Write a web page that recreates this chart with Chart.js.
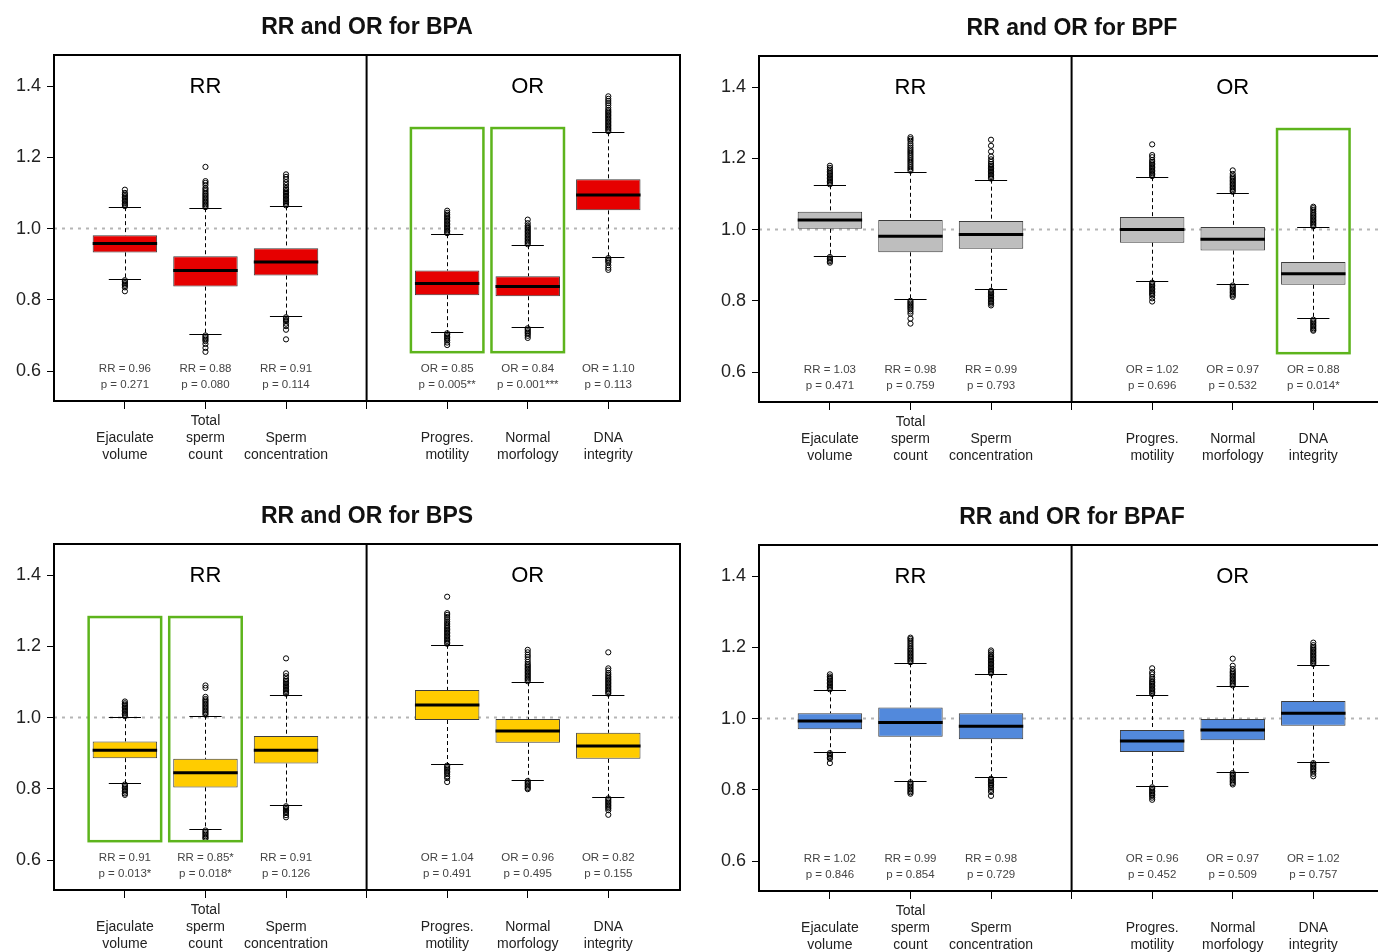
<!DOCTYPE html>
<html>
<head>
<meta charset="utf-8">
<script src="https://cdn.jsdelivr.net/npm/chart.js@4"></script>
<style>
  html, body { margin: 0; padding: 0; background: #fff; overflow: hidden; }
  body { width: 1378px; height: 952px; position: relative; }
  .panel { position: absolute; width: 705px; height: 489px; }
</style>
</head>
<body>
<div class="panel" style="left:0;top:0"><canvas id="bpa" width="705" height="489"></canvas></div>
<div class="panel" style="left:705px;top:1px"><canvas id="bpf" width="705" height="489"></canvas></div>
<div class="panel" style="left:0;top:489px"><canvas id="bps" width="705" height="489"></canvas></div>
<div class="panel" style="left:705px;top:490px"><canvas id="bpaf" width="705" height="489"></canvas></div>
<script>
// box positions (4 is the RR / OR divider)
const positions = [1, 2, 3, 5, 6, 7]
const tickLabels = {
  1: ['', 'Ejaculate', 'volume'],
  2: ['Total', 'sperm', 'count'],
  3: ['', 'Sperm', 'concentration'],
  4: '',
  5: ['', 'Progres.', 'motility'],
  6: ['', 'Normal', 'morfology'],
  7: ['', 'DNA', 'integrity']
}
const yTicks = [0.6, 0.8, 1.0, 1.2, 1.4]

// BPA
const bpaQ1 = [0.933, 0.837, 0.868, 0.813, 0.810, 1.051]
const bpaMedian = [0.958, 0.882, 0.906, 0.846, 0.837, 1.094]
const bpaQ3 = [0.981, 0.922, 0.945, 0.882, 0.866, 1.138]
const bpaLow = [0.858, 0.704, 0.755, 0.710, 0.724, 0.921]
const bpaHigh = [1.060, 1.057, 1.062, 0.984, 0.953, 1.270]
const bpaOutUp = [
  [1.063, 1.067, 1.071, 1.075, 1.079, 1.083, 1.087, 1.091, 1.095, 1.100, 1.109],
  [1.060, 1.064, 1.068, 1.072, 1.076, 1.080, 1.084, 1.088, 1.092, 1.096, 1.100, 1.105, 1.110, 1.114, 1.122, 1.128, 1.133, 1.173],
  [1.065, 1.069, 1.073, 1.077, 1.081, 1.085, 1.089, 1.093, 1.097, 1.101, 1.105, 1.110, 1.114, 1.122, 1.130, 1.138, 1.145, 1.152],
  [0.987, 0.991, 0.995, 0.999, 1.003, 1.007, 1.011, 1.015, 1.019, 1.023, 1.027, 1.031, 1.035, 1.039, 1.044, 1.050],
  [0.956, 0.960, 0.964, 0.968, 0.972, 0.976, 0.980, 0.984, 0.988, 0.992, 0.996, 1.000, 1.004, 1.008, 1.015, 1.025],
  [1.273, 1.277, 1.281, 1.285, 1.289, 1.293, 1.297, 1.301, 1.305, 1.309, 1.313, 1.317, 1.321, 1.325, 1.329, 1.333, 1.339, 1.346, 1.352, 1.358, 1.364, 1.371]
]
const bpaOutLow = [
  [0.855, 0.851, 0.847, 0.843, 0.839, 0.835, 0.824],
  [0.700, 0.696, 0.692, 0.688, 0.684, 0.676, 0.665, 0.654],
  [0.751, 0.747, 0.743, 0.740, 0.733, 0.726, 0.716, 0.689],
  [0.706, 0.702, 0.698, 0.694, 0.690, 0.686, 0.680, 0.673],
  [0.720, 0.716, 0.712, 0.708, 0.704, 0.699, 0.693],
  [0.917, 0.913, 0.909, 0.905, 0.897, 0.890, 0.884]
]
const bpaEffect = ['RR = 0.96', 'RR = 0.88', 'RR = 0.91', 'OR = 0.85', 'OR = 0.84', 'OR = 1.10']
const bpaP = ['p = 0.271', 'p = 0.080', 'p = 0.114', 'p = 0.005**', 'p = 0.001***', 'p = 0.113']
const bpaMarked = [3, 4]

// BPF
const bpfQ1 = [1.002, 0.936, 0.946, 0.963, 0.941, 0.845]
const bpfMedian = [1.027, 0.981, 0.986, 1.000, 0.973, 0.876]
const bpfQ3 = [1.050, 1.027, 1.024, 1.035, 1.007, 0.909]
const bpfLow = [0.927, 0.804, 0.832, 0.855, 0.847, 0.751]
const bpfHigh = [1.124, 1.162, 1.140, 1.147, 1.103, 1.006]
const bpfOutUp = [
  [1.127, 1.131, 1.135, 1.139, 1.143, 1.147, 1.151, 1.155, 1.159, 1.163, 1.168, 1.173, 1.179],
  [1.165, 1.170, 1.175, 1.180, 1.185, 1.190, 1.195, 1.200, 1.205, 1.210, 1.215, 1.220, 1.225, 1.230, 1.236, 1.242, 1.249, 1.254, 1.259],
  [1.143, 1.147, 1.151, 1.155, 1.159, 1.163, 1.167, 1.171, 1.175, 1.179, 1.184, 1.190, 1.197, 1.205, 1.219, 1.235, 1.252],
  [1.150, 1.154, 1.158, 1.162, 1.166, 1.170, 1.174, 1.178, 1.182, 1.186, 1.190, 1.195, 1.203, 1.209, 1.239],
  [1.106, 1.110, 1.114, 1.118, 1.122, 1.126, 1.130, 1.134, 1.138, 1.142, 1.146, 1.150, 1.156, 1.166],
  [1.009, 1.013, 1.017, 1.021, 1.025, 1.029, 1.033, 1.037, 1.041, 1.045, 1.050, 1.055, 1.060, 1.064]
]
const bpfOutLow = [
  [0.923, 0.919, 0.915, 0.911, 0.907],
  [0.800, 0.796, 0.792, 0.788, 0.784, 0.780, 0.776, 0.770, 0.764, 0.750, 0.736],
  [0.828, 0.824, 0.820, 0.816, 0.812, 0.808, 0.804, 0.800, 0.796, 0.792, 0.787],
  [0.851, 0.847, 0.843, 0.839, 0.835, 0.831, 0.827, 0.823, 0.819, 0.815, 0.807, 0.798],
  [0.843, 0.839, 0.835, 0.831, 0.827, 0.823, 0.819, 0.815, 0.811],
  [0.747, 0.743, 0.739, 0.735, 0.731, 0.727, 0.723, 0.719, 0.716]
]
const bpfEffect = ['RR = 1.03', 'RR = 0.98', 'RR = 0.99', 'OR = 1.02', 'OR = 0.97', 'OR = 0.88']
const bpfP = ['p = 0.471', 'p = 0.759', 'p = 0.793', 'p = 0.696', 'p = 0.532', 'p = 0.014*']
const bpfMarked = [5]

// BPS
const bpsQ1 = [0.886, 0.804, 0.871, 0.993, 0.929, 0.884]
const bpsMedian = [0.908, 0.845, 0.908, 1.035, 0.962, 0.920]
const bpsQ3 = [0.933, 0.884, 0.948, 1.077, 0.996, 0.957]
const bpsLow = [0.816, 0.687, 0.755, 0.869, 0.826, 0.777]
const bpsHigh = [1.001, 1.005, 1.064, 1.204, 1.099, 1.064]
const bpsOutUp = [
  [1.004, 1.008, 1.012, 1.016, 1.020, 1.024, 1.028, 1.032, 1.036, 1.040, 1.045],
  [1.008, 1.012, 1.016, 1.020, 1.024, 1.028, 1.032, 1.036, 1.040, 1.044, 1.048, 1.052, 1.058, 1.083, 1.090],
  [1.067, 1.071, 1.075, 1.079, 1.083, 1.087, 1.091, 1.095, 1.099, 1.103, 1.108, 1.116, 1.124, 1.166],
  [1.207, 1.211, 1.215, 1.219, 1.223, 1.227, 1.231, 1.235, 1.239, 1.243, 1.247, 1.251, 1.255, 1.260, 1.265, 1.270, 1.276, 1.282, 1.288, 1.293, 1.339],
  [1.102, 1.106, 1.110, 1.114, 1.118, 1.122, 1.126, 1.130, 1.134, 1.138, 1.142, 1.146, 1.150, 1.156, 1.163, 1.170, 1.176, 1.183, 1.190],
  [1.067, 1.071, 1.075, 1.079, 1.083, 1.087, 1.091, 1.095, 1.099, 1.103, 1.107, 1.111, 1.115, 1.120, 1.125, 1.132, 1.138, 1.183]
]
const bpsOutLow = [
  [0.812, 0.808, 0.804, 0.800, 0.796, 0.792, 0.787, 0.783],
  [0.683, 0.679, 0.675, 0.671, 0.667, 0.663, 0.660],
  [0.751, 0.747, 0.743, 0.739, 0.735, 0.732, 0.726, 0.720],
  [0.865, 0.861, 0.857, 0.853, 0.849, 0.845, 0.841, 0.835, 0.830, 0.819],
  [0.822, 0.818, 0.814, 0.810, 0.806, 0.802, 0.799],
  [0.773, 0.769, 0.765, 0.761, 0.757, 0.753, 0.749, 0.745, 0.740, 0.727]
]
const bpsEffect = ['RR = 0.91', 'RR = 0.85*', 'RR = 0.91', 'OR = 1.04', 'OR = 0.96', 'OR = 0.82']
const bpsP = ['p = 0.013*', 'p = 0.018*', 'p = 0.126', 'p = 0.491', 'p = 0.495', 'p = 0.155']
const bpsMarked = [0, 1]

// BPAF
const bpafQ1 = [0.970, 0.949, 0.942, 0.906, 0.939, 0.980]
const bpafMedian = [0.993, 0.989, 0.978, 0.937, 0.968, 1.015]
const bpafQ3 = [1.015, 1.031, 1.015, 0.968, 0.999, 1.049]
const bpafLow = [0.907, 0.825, 0.835, 0.811, 0.851, 0.879]
const bpafHigh = [1.079, 1.155, 1.124, 1.066, 1.090, 1.150]
const bpafOutUp = [
  [1.082, 1.086, 1.090, 1.094, 1.098, 1.102, 1.106, 1.110, 1.114, 1.118, 1.124],
  [1.158, 1.162, 1.166, 1.170, 1.174, 1.178, 1.182, 1.186, 1.190, 1.194, 1.198, 1.203, 1.208, 1.213, 1.218, 1.223, 1.227],
  [1.127, 1.131, 1.135, 1.139, 1.143, 1.147, 1.151, 1.155, 1.159, 1.163, 1.167, 1.171, 1.175, 1.180, 1.186, 1.191],
  [1.069, 1.073, 1.077, 1.081, 1.085, 1.089, 1.093, 1.097, 1.101, 1.105, 1.110, 1.116, 1.124, 1.130, 1.141],
  [1.093, 1.097, 1.101, 1.105, 1.109, 1.113, 1.117, 1.121, 1.125, 1.129, 1.133, 1.139, 1.148, 1.168],
  [1.153, 1.157, 1.161, 1.165, 1.169, 1.173, 1.177, 1.181, 1.185, 1.189, 1.193, 1.197, 1.201, 1.206, 1.213]
]
const bpafOutLow = [
  [0.903, 0.899, 0.895, 0.891, 0.887, 0.875],
  [0.821, 0.817, 0.813, 0.809, 0.805, 0.801, 0.797, 0.793, 0.789],
  [0.831, 0.827, 0.823, 0.819, 0.815, 0.811, 0.806, 0.800, 0.794, 0.783],
  [0.807, 0.803, 0.799, 0.795, 0.791, 0.787, 0.783, 0.778, 0.772],
  [0.847, 0.843, 0.839, 0.835, 0.831, 0.827, 0.823, 0.819, 0.815],
  [0.875, 0.871, 0.867, 0.863, 0.859, 0.855, 0.851, 0.845, 0.838]
]
const bpafEffect = ['RR = 1.02', 'RR = 0.99', 'RR = 0.98', 'OR = 0.96', 'OR = 0.97', 'OR = 1.02']
const bpafP = ['p = 0.846', 'p = 0.854', 'p = 0.729', 'p = 0.452', 'p = 0.509', 'p = 0.757']
const bpafMarked = []

Chart.defaults.font.family = '"Liberation Sans", Arial, sans-serif'
Chart.defaults.color = '#222'

const hline = (ctx, x1, y1, x2, y2) => {
  ctx.beginPath()
  ctx.moveTo(x1, y1)
  ctx.lineTo(x2, y2)
  ctx.stroke()
}

const boxParts = (d) => ({
  id: 'boxParts',
  beforeDatasetsDraw(chart) {
    const { ctx, chartArea: a, scales: { x, y } } = chart
    ctx.save()
    // dotted reference line at 1
    ctx.strokeStyle = '#b5b5b5'
    ctx.lineWidth = 2
    ctx.setLineDash([3, 5])
    hline(ctx, a.left, y.getPixelForValue(1), a.right, y.getPixelForValue(1))
    // whiskers
    ctx.strokeStyle = '#000'
    ctx.lineWidth = 1
    ctx.setLineDash([4, 3])
    positions.forEach((pos, i) => {
      const px = Math.round(x.getPixelForValue(pos)) + 0.5
      hline(ctx, px, y.getPixelForValue(d.high[i]), px, y.getPixelForValue(d.q3[i]))
      hline(ctx, px, y.getPixelForValue(d.q1[i]), px, y.getPixelForValue(d.low[i]))
    })
    ctx.setLineDash([])
    positions.forEach((pos, i) => {
      const l = x.getPixelForValue(pos - 0.2), r = x.getPixelForValue(pos + 0.2)
      hline(ctx, l, Math.round(y.getPixelForValue(d.high[i])) + 0.5, r, Math.round(y.getPixelForValue(d.high[i])) + 0.5)
      hline(ctx, l, Math.round(y.getPixelForValue(d.low[i])) + 0.5, r, Math.round(y.getPixelForValue(d.low[i])) + 0.5)
    })
    ctx.restore()
  },
  afterDatasetsDraw(chart) {
    const { ctx, chartArea: a, scales: { x, y } } = chart
    ctx.save()
    // medians
    ctx.strokeStyle = '#000'
    ctx.lineWidth = 3
    positions.forEach((pos, i) => {
      const py = y.getPixelForValue(d.median[i])
      hline(ctx, x.getPixelForValue(pos - 0.4), py, x.getPixelForValue(pos + 0.4), py)
    })
    // significant boxes
    ctx.strokeStyle = '#5db41c'
    ctx.lineWidth = 2.5
    d.marked.forEach(i => {
      const l = x.getPixelForValue(positions[i] - 0.45), r = x.getPixelForValue(positions[i] + 0.45)
      const t = y.getPixelForValue(1.282), b = y.getPixelForValue(0.653)
      ctx.strokeRect(l, t, r - l, b - t)
    })
    // frame and divider
    ctx.strokeStyle = '#000'
    ctx.lineWidth = 2
    ctx.strokeRect(a.left, a.top, a.right - a.left, a.bottom - a.top)
    hline(ctx, x.getPixelForValue(4), a.top, x.getPixelForValue(4), a.bottom)
    // section headers
    ctx.fillStyle = '#000'
    ctx.textAlign = 'center'
    ctx.textBaseline = 'middle'
    ctx.font = '22px "Liberation Sans", Arial, sans-serif'
    ctx.fillText('RR', x.getPixelForValue(2), y.getPixelForValue(1.396))
    ctx.fillText('OR', x.getPixelForValue(6), y.getPixelForValue(1.396))
    // estimates
    ctx.fillStyle = '#444'
    ctx.font = '11.5px "Liberation Sans", Arial, sans-serif'
    positions.forEach((pos, i) => {
      ctx.fillText(d.effect[i], x.getPixelForValue(pos), y.getPixelForValue(0.607))
      ctx.fillText(d.p[i], x.getPixelForValue(pos), y.getPixelForValue(0.562))
    })
    ctx.restore()
  }
})

const drawPanel = (id, title, color, d) => {
  const outliers = []
  positions.forEach((pos, i) => {
    d.outUp[i].forEach(v => outliers.push({ x: pos, y: v }))
    d.outLow[i].forEach(v => outliers.push({ x: pos, y: v }))
  })
  new Chart(document.getElementById(id), {
    type: 'bar',
    data: {
      datasets: [{
        type: 'scatter',
        data: outliers,
        pointRadius: 2.6,
        pointBackgroundColor: 'rgba(0,0,0,0)',
        pointBorderColor: '#000',
        pointBorderWidth: 1,
        showLine: false
      }, {
        data: positions.map((pos, i) => ({ x: pos, y: [d.q1[i], d.q3[i]] })),
        backgroundColor: color,
        borderColor: '#3c3c3c',
        borderWidth: 1,
        borderSkipped: false,
        barPercentage: 1,
        categoryPercentage: 0.8
      }]
    },
    options: {
      responsive: false,
      animation: false,
      devicePixelRatio: 1,
      layout: { padding: { left: 0, right: 25, top: 0, bottom: 0 } },
      plugins: {
        legend: { display: false },
        tooltip: { enabled: false },
        title: {
          display: true,
          text: title,
          fullSize: false,
          color: '#111',
          font: { size: 23, weight: 'bold' },
          padding: { top: 14, bottom: 13.4 }
        }
      },
      scales: {
        x: {
          type: 'linear',
          min: 0.12,
          max: 7.89,
          offset: false,
          afterBuildTicks: s => { s.ticks = [1, 2, 3, 4, 5, 6, 7].map(v => ({ value: v })) },
          afterFit: s => { s.height = 88 },
          ticks: {
            autoSkip: false,
            maxRotation: 0,
            padding: 4,
            color: '#222',
            font: { size: 14 },
            callback: v => tickLabels[v]
          },
          grid: { offset: false, drawOnChartArea: false, tickLength: 8, color: '#000' },
          border: { display: false }
        },
        y: {
          type: 'linear',
          min: 0.516,
          max: 1.487,
          beginAtZero: false,
          afterBuildTicks: s => { s.ticks = yTicks.map(v => ({ value: v })) },
          afterFit: s => { s.width = 54 },
          ticks: {
            padding: 6,
            color: '#222',
            font: { size: 18 },
            callback: v => v.toFixed(1)
          },
          grid: { drawOnChartArea: false, tickLength: 7, color: '#000' },
          border: { display: false }
        }
      }
    },
    plugins: [boxParts(d)]
  })
}

drawPanel('bpa', 'RR and OR for BPA', '#e60000', {
  q1: bpaQ1, median: bpaMedian, q3: bpaQ3, low: bpaLow, high: bpaHigh,
  outUp: bpaOutUp, outLow: bpaOutLow, effect: bpaEffect, p: bpaP, marked: bpaMarked
})
drawPanel('bpf', 'RR and OR for BPF', '#bebebe', {
  q1: bpfQ1, median: bpfMedian, q3: bpfQ3, low: bpfLow, high: bpfHigh,
  outUp: bpfOutUp, outLow: bpfOutLow, effect: bpfEffect, p: bpfP, marked: bpfMarked
})
drawPanel('bps', 'RR and OR for BPS', '#ffcc00', {
  q1: bpsQ1, median: bpsMedian, q3: bpsQ3, low: bpsLow, high: bpsHigh,
  outUp: bpsOutUp, outLow: bpsOutLow, effect: bpsEffect, p: bpsP, marked: bpsMarked
})
drawPanel('bpaf', 'RR and OR for BPAF', '#5289dc', {
  q1: bpafQ1, median: bpafMedian, q3: bpafQ3, low: bpafLow, high: bpafHigh,
  outUp: bpafOutUp, outLow: bpafOutLow, effect: bpafEffect, p: bpafP, marked: bpafMarked
})
</script>
</body>
</html>
